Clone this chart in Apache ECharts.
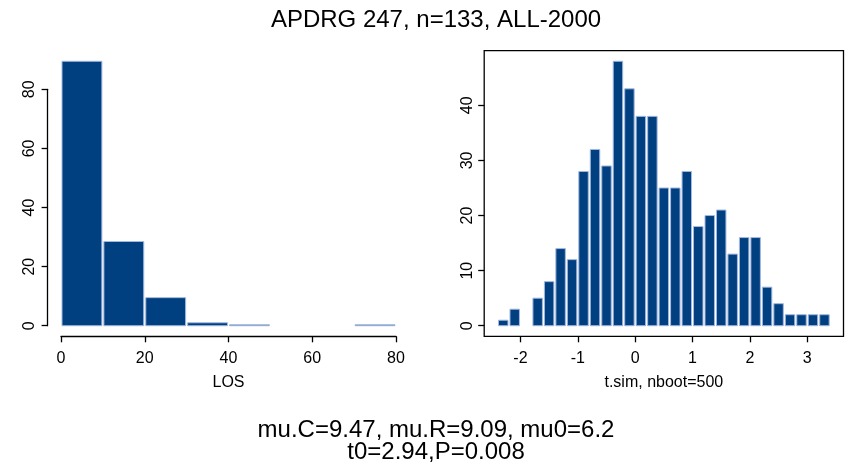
<!DOCTYPE html>
<html><head><meta charset="utf-8">
<script src="https://cdn.jsdelivr.net/npm/echarts@6/dist/echarts.min.js"></script>
<style>html,body{margin:0;padding:0;background:#fff}#c{width:846px;height:470px}</style>
</head><body><div id="c"></div>
<script>
// ---- data ----
const chartTitle = 'APDRG 247, n=133, ALL-2000';
const footerLines = ['mu.C=9.47, mu.R=9.09, mu0=6.2', 't0=2.94,P=0.008'];
const losName = 'LOS';
const losEdges = [0, 10, 20, 30, 40, 50, 60, 70, 80];
const losCounts = [89.5, 28.5, 9.5, 1, 0.3, 0, 0, 0.3];
const losXTicks = [0, 20, 40, 60, 80];
const losYTicks = [0, 20, 40, 60, 80];
const tsimName = 't.sim, nboot=500';
const tsimEdges = [-2.4, -2.2, -2.0, -1.8, -1.6, -1.4, -1.2, -1.0, -0.8, -0.6, -0.4, -0.2, 0.0,
                   0.2, 0.4, 0.6, 0.8, 1.0, 1.2, 1.4, 1.6, 1.8, 2.0, 2.2, 2.4, 2.6, 2.8, 3.0, 3.2, 3.4];
const tsimCounts = [1, 3, 0, 5, 8, 14, 12, 28, 32, 29, 48, 43, 38, 38, 25, 25, 28, 18, 20, 21, 13, 16, 16, 7, 4, 2, 2, 2, 2];
const tsimXTicks = [-2, -1, 0, 1, 2, 3];
const tsimYTicks = [0, 10, 20, 30, 40];

// ---- style / layout ----
const FONT = "'Liberation Sans', Arial, sans-serif";
const BAR = '#003f80';
const BAR_EDGE = '#a3b8de';
const TEXT_CENTER_X = 436;

function binsToData(edges, counts) {
  return counts.map((c, i) => [edges[i], edges[i + 1], c]);
}
function extend(a, b) { const d = (b - a) * 0.04; return [a - d, b + d]; }

// plot regions (px)
const leftRegion = { x0: 47.6, x1: 409.4, y0: 50.7, y1: 336.3 };
const rightRegion = { x0: 484.2, x1: 843.5, y0: 50.7, y1: 336.3 };

const losXR = extend(losEdges[0], losEdges[losEdges.length - 1]);
const losYR = extend(0, Math.max(...losCounts));
const tsXR = extend(tsimEdges[0], tsimEdges[tsimEdges.length - 1]);
const tsYR = extend(0, Math.max(...tsimCounts));

function mapX(reg, r, v) { return reg.x0 + (v - r[0]) / (r[1] - r[0]) * (reg.x1 - reg.x0); }
function mapY(reg, r, v) { return reg.y1 - (v - r[0]) / (r[1] - r[0]) * (reg.y1 - reg.y0); }

function regionGrid(reg, extra) {
  return Object.assign({ left: reg.x0, top: reg.y0, width: reg.x1 - reg.x0, height: reg.y1 - reg.y0 }, extra || {});
}

const lx0 = mapX(leftRegion, losXR, losXTicks[0]), lx1 = mapX(leftRegion, losXR, losXTicks[losXTicks.length - 1]);
const ly0 = mapY(leftRegion, losYR, losYTicks[0]), ly1 = mapY(leftRegion, losYR, losYTicks[losYTicks.length - 1]);
const rx0 = mapX(rightRegion, tsXR, tsimXTicks[0]), rx1 = mapX(rightRegion, tsXR, tsimXTicks[tsimXTicks.length - 1]);
const ry0 = mapY(rightRegion, tsYR, tsimYTicks[0]), ry1 = mapY(rightRegion, tsYR, tsimYTicks[tsimYTicks.length - 1]);

const grids = [
  regionGrid(leftRegion),
  { left: lx0, width: lx1 - lx0, top: leftRegion.y0, height: leftRegion.y1 - leftRegion.y0 },
  { left: leftRegion.x0, width: 200, top: ly1, height: ly0 - ly1 },
  regionGrid(rightRegion, { show: true, borderColor: '#000', borderWidth: 1.3, backgroundColor: 'transparent' }),
  { left: rx0, width: rx1 - rx0, top: rightRegion.y0, height: rightRegion.y1 - rightRegion.y0 },
  { left: rightRegion.x0, width: 200, top: ry1, height: ry0 - ry1 }
];

const labelStyle = { color: '#000', fontSize: 16, fontFamily: FONT };
const hidden = (gi, r) => ({ type: 'value', gridIndex: gi, min: r[0], max: r[1], show: false });

const xAxes = [
  hidden(0, losXR),
  { type: 'value', gridIndex: 1, min: losXTicks[0], max: losXTicks[losXTicks.length - 1], interval: losXTicks[1] - losXTicks[0],
    axisLine: { show: true, lineStyle: { color: '#000', width: 1.3 } },
    axisTick: { show: true, length: 6, lineStyle: { color: '#000', width: 1.3 } },
    axisLabel: Object.assign({ margin: 14 }, labelStyle), splitLine: { show: false },
    name: losName, nameLocation: 'middle', nameGap: 38, nameTextStyle: labelStyle },
  hidden(2, [0, 1]),
  hidden(3, tsXR),
  { type: 'value', gridIndex: 4, min: tsimXTicks[0], max: tsimXTicks[tsimXTicks.length - 1], interval: 1,
    axisLine: { show: false },
    axisTick: { show: true, length: 6, lineStyle: { color: '#000', width: 1.3 } },
    axisLabel: Object.assign({ margin: 14 }, labelStyle), splitLine: { show: false },
    name: tsimName, nameLocation: 'middle', nameGap: 38, nameTextStyle: labelStyle },
  hidden(5, [0, 1])
];
const yAxes = [
  hidden(0, losYR),
  hidden(1, [0, 1]),
  { type: 'value', gridIndex: 2, min: losYTicks[0], max: losYTicks[losYTicks.length - 1], interval: losYTicks[1] - losYTicks[0],
    axisLine: { show: true, lineStyle: { color: '#000', width: 1.3 } },
    axisTick: { show: true, length: 6, lineStyle: { color: '#000', width: 1.3 } },
    axisLabel: Object.assign({ margin: 10, rotate: 90 }, labelStyle), splitLine: { show: false } },
  hidden(3, tsYR),
  hidden(4, [0, 1]),
  { type: 'value', gridIndex: 5, min: tsimYTicks[0], max: tsimYTicks[tsimYTicks.length - 1], interval: tsimYTicks[1] - tsimYTicks[0],
    axisLine: { show: false },
    axisTick: { show: true, length: 6, lineStyle: { color: '#000', width: 1.3 } },
    axisLabel: Object.assign({ margin: 9, rotate: 90 }, labelStyle), splitLine: { show: false } }
];

function histItem(params, api) {
  const a = api.value(0), b = api.value(1), c = api.value(2);
  if (!(c > 0)) return null;
  const p0 = api.coord([a, 0]);
  const p1 = api.coord([b, c]);
  return {
    type: 'rect',
    shape: { x: p0[0] + 1, y: p1[1], width: p1[0] - p0[0] - 2, height: p0[1] - p1[1] },
    style: { fill: BAR, stroke: BAR_EDGE, lineWidth: 1 }
  };
}

const titleText = { fontSize: 24, fontWeight: 'normal', color: '#000', fontFamily: FONT };
const chart = echarts.init(document.getElementById('c'), null, { renderer: 'canvas' });
chart.setOption({
  animation: false,
  backgroundColor: '#fff',
  title: [
    { text: chartTitle, left: TEXT_CENTER_X, textAlign: 'center', top: 8, padding: 0, textStyle: titleText },
    { text: footerLines[0], left: TEXT_CENTER_X, textAlign: 'center', top: 418, padding: 0, textStyle: titleText },
    { text: footerLines[1], left: TEXT_CENTER_X, textAlign: 'center', top: 440, padding: 0, textStyle: titleText }
  ],
  grid: grids,
  xAxis: xAxes,
  yAxis: yAxes,
  series: [
    { type: 'custom', xAxisIndex: 0, yAxisIndex: 0, renderItem: histItem, data: binsToData(losEdges, losCounts), encode: { x: [0, 1], y: 2 } },
    { type: 'custom', xAxisIndex: 3, yAxisIndex: 3, renderItem: histItem, data: binsToData(tsimEdges, tsimCounts), encode: { x: [0, 1], y: 2 } }
  ]
});
</script></body></html>
